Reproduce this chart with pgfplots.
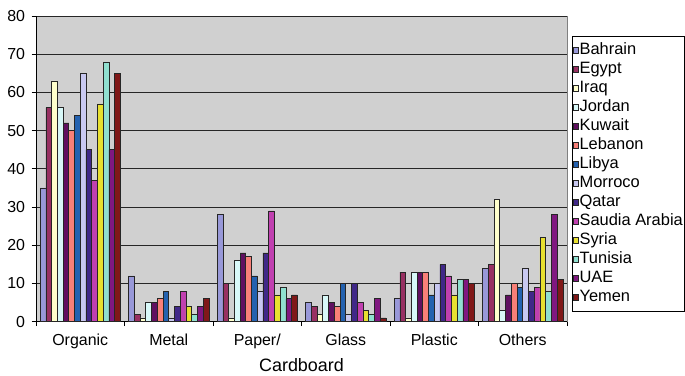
\documentclass[border=0pt]{standalone}
\usepackage{pgfplots}
\usepackage{pgfplotstable}
\pgfplotsset{compat=1.18}
\usepackage{fontspec}
\setmainfont{Liberation Sans}

% Excel-style palette
\definecolor{cBahrain}{HTML}{9898D8}
\definecolor{cEgypt}{HTML}{983062}
\definecolor{cIraq}{HTML}{FFFFCC}
\definecolor{cJordan}{HTML}{D8F8F8}
\definecolor{cKuwait}{HTML}{601060}
\definecolor{cLebanon}{HTML}{F88078}
\definecolor{cLibya}{HTML}{2462B0}
\definecolor{cMorroco}{HTML}{C8C8F0}
\definecolor{cQatar}{HTML}{402888}
\definecolor{cSaudia}{HTML}{C040B0}
\definecolor{cSyria}{HTML}{E8E030}
\definecolor{cTunisia}{HTML}{90E0D0}
\definecolor{cUAE}{HTML}{801880}
\definecolor{cYemen}{HTML}{801818}
\definecolor{plotbg}{HTML}{D0D0D0}

% waste composition (%) by category: 0 Organic, 1 Metal, 2 Paper/Cardboard, 3 Glass, 4 Plastic, 5 Others
\pgfplotstableread{
x Bahrain Egypt Iraq Jordan Kuwait Lebanon Libya Morroco Qatar Saudia Syria Tunisia UAE Yemen
0 35 56 63 56 52 50 54 65 45 37 57 68 45 65
1 12  2  1  5  5  6  8  1  4  8  4  2  4  6
2 28 10  1 16 18 17 12  8 18 29  7  9  6  7
3  5  4  2  7  5  4 10  2 10  5  3  2  6  1
4  6 13  1 13 13 13  7 10 15 12  7 11 11 10
5 14 15 32  3  7 10  9 14  8  9 22  8 28 11
}\wastedata

\begin{document}
\begin{tikzpicture}
\begin{axis}[
  scale only axis,
  width=531bp, height=305.7bp,
  xmin=-0.5, xmax=5.5,
  ymin=0, ymax=80,
  ybar=0pt, bar width=5.74bp,
  axis background/.style={fill=plotbg, draw=black!50, line width=0.8bp},
  axis x line*=bottom, axis y line*=left,
  axis line style={-, black, line width=0.8bp},
  ytick={0,10,...,80},
  ymajorgrids,
  major grid style={black!85, line width=0.8bp},
  xtick={0,...,5},
  xticklabels={Organic,Metal,Paper/,Glass,Plastic,Others},
  major x tick style={draw=none},
  minor xtick={-0.5,0.5,...,5.5},
  tick align=outside,
  major tick length=4.5bp, minor tick length=4.5bp,
  tick style={black, line width=0.8bp},
  /pgf/number format/assume math mode=true,
  tick label style={font=\fontsize{16}{19}\selectfont},
  xticklabel style={yshift=-4bp},
  yticklabel style={xshift=-3bp},
  xlabel={Cardboard},
  xlabel style={font=\fontsize{18}{21}\selectfont, yshift=-3bp},
  every axis plot post/.append style={
    draw=black!85, line width=0.6bp,
    legend image code/.code={\draw[##1, line width=0.5bp] (0bp,-2.6bp) rectangle (5.4bp,2.6bp);}
  },
  legend cell align=left,
  legend style={
    at={(1,0.9346)}, anchor=north west, xshift=4.7bp,
    draw=black, line width=0.7bp, fill=white,
    font=\fontsize{16.5}{19}\selectfont,
    inner xsep=1bp, inner ysep=6bp,
    row sep=3.3bp,
    nodes={inner sep=0.6bp, text height=11.5bp, text depth=3bp},
  },
]
\addplot[fill=cBahrain] table[x=x,y=Bahrain]{\wastedata};
\addplot[fill=cEgypt]   table[x=x,y=Egypt]{\wastedata};
\addplot[fill=cIraq]    table[x=x,y=Iraq]{\wastedata};
\addplot[fill=cJordan]  table[x=x,y=Jordan]{\wastedata};
\addplot[fill=cKuwait]  table[x=x,y=Kuwait]{\wastedata};
\addplot[fill=cLebanon] table[x=x,y=Lebanon]{\wastedata};
\addplot[fill=cLibya]   table[x=x,y=Libya]{\wastedata};
\addplot[fill=cMorroco] table[x=x,y=Morroco]{\wastedata};
\addplot[fill=cQatar]   table[x=x,y=Qatar]{\wastedata};
\addplot[fill=cSaudia]  table[x=x,y=Saudia]{\wastedata};
\addplot[fill=cSyria]   table[x=x,y=Syria]{\wastedata};
\addplot[fill=cTunisia] table[x=x,y=Tunisia]{\wastedata};
\addplot[fill=cUAE]     table[x=x,y=UAE]{\wastedata};
\addplot[fill=cYemen]   table[x=x,y=Yemen]{\wastedata};
\legend{Bahrain,Egypt,Iraq,Jordan,Kuwait,Lebanon,Libya,Morroco,Qatar,Saudia Arabia,Syria,Tunisia,UAE,Yemen}
\end{axis}
\pgfresetboundingbox
\path[use as bounding box]
  ([xshift=-36bp,yshift=-54.3bp]current axis.south west)
  rectangle ([xshift=118bp,yshift=16bp]current axis.north east);
\end{tikzpicture}
\end{document}
